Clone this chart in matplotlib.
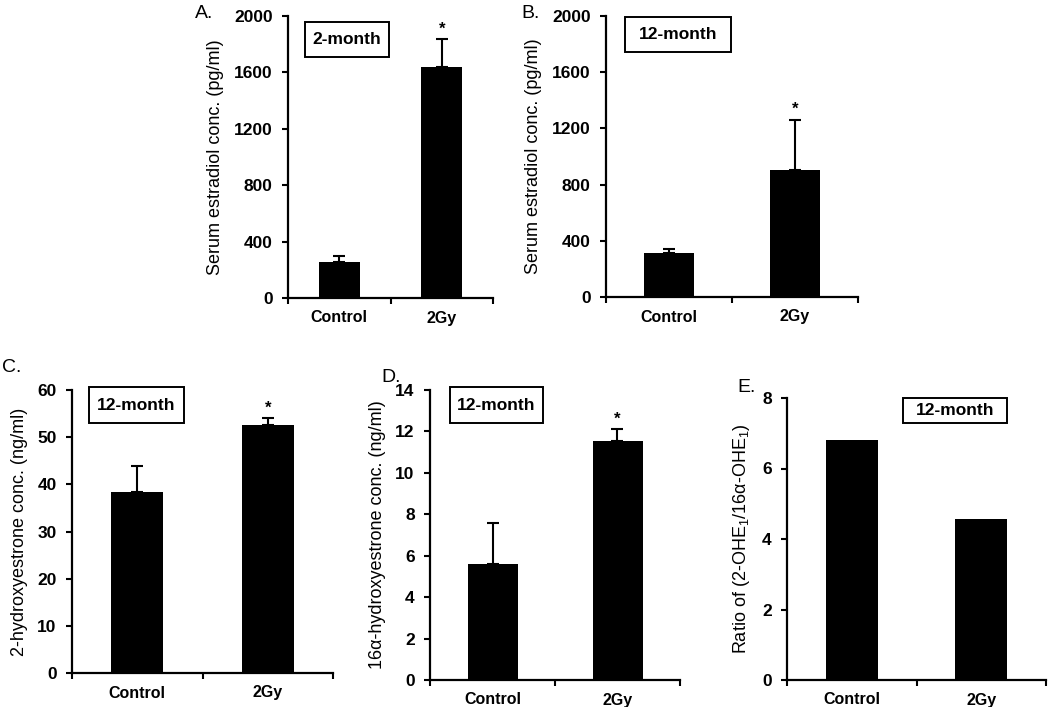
import matplotlib
matplotlib.use("Agg")
import matplotlib.pyplot as plt
from matplotlib.patches import Rectangle

plt.rcParams['font.family'] = ['Liberation Sans', 'DejaVu Sans']
plt.rcParams['mathtext.fontset'] = 'custom'
plt.rcParams['mathtext.rm'] = 'Liberation Sans'
plt.rcParams['mathtext.default'] = 'rm'

groups = ["Control", "2Gy"]

# A: serum estradiol, 2-month
estradiol_2m = [252, 1640]
estradiol_2m_err = [44, 194]
# B: serum estradiol, 12-month
estradiol_12m = [316, 903]
estradiol_12m_err = [28, 360]
# C: 2-hydroxyestrone, 12-month
ohe2_12m = [38.4, 52.6]
ohe2_12m_err = [5.5, 1.4]
# D: 16a-hydroxyestrone, 12-month
ohe16_12m = [5.58, 11.54]
ohe16_12m_err = [2.0, 0.56]
# E: ratio
ratio_12m = [6.82, 4.56]
# significance marks per group
signif = [False, True]

W, H = 1050, 707
fig = plt.figure(figsize=(W / 100, H / 100), dpi=100)


def px_axes(l, t, r, b):
    return fig.add_axes([l / W, 1 - b / H, (r - l) / W, (b - t) / H])


def panel(rect, vals, err, ymax, ystep, ylabel, letter, letter_xy, box, box_text):
    ax = px_axes(*rect)
    x = [0.5, 1.5]
    if err is not None:
        ax.bar(x, vals, width=0.4, color='black',
               yerr=[[0, 0], err], error_kw=dict(ecolor='black', elinewidth=1.5, capsize=4.5, capthick=1.5))
    else:
        ax.bar(x, vals, width=0.4, color='black')
    ax.set_xlim(0, 2)
    ax.set_ylim(0, ymax)
    yt = [ystep * i for i in range(int(round(ymax / ystep)) + 1)]
    ax.set_yticks(yt, labels=[f"{v:g}" for v in yt], fontweight='bold', fontsize=12.5)
    ax.set_xticks([0, 1, 2])
    ax.set_xticklabels([])
    ax.set_xticks(x, minor=True)
    ax.set_xticklabels(groups, minor=True, fontweight='bold', fontsize=11.5)
    ax.tick_params(axis='x', which='minor', length=0, pad=9)
    ax.tick_params(axis='x', which='major', direction='out', length=4, width=1.5)
    ax.tick_params(axis='y', direction='out', length=4, width=1.5, pad=7)
    for s in ['top', 'right']:
        ax.spines[s].set_visible(False)
    for s in ['left', 'bottom']:
        ax.spines[s].set_linewidth(1.6)
    ax.set_ylabel(ylabel, fontsize=13, labelpad=7)
    if err is not None:
        for xi, v, e, sg in zip(x, vals, err, signif):
            if sg:
                ax.annotate('*', xy=(xi, v + e), xytext=(0, 2), textcoords='offset points',
                            ha='center', va='bottom', fontsize=12, fontweight='bold')
    fig.text(letter_xy[0] / W, 1 - letter_xy[1] / H, letter, fontsize=14, ha='left', va='center')
    bl, bt, br, bb = box
    fig.patches.append(Rectangle((bl / W, 1 - bb / H), (br - bl) / W, (bb - bt) / H,
                                 transform=fig.transFigure, fill=False, edgecolor='black', linewidth=1.4))
    fig.text((bl + br) / 2 / W, 1 - (bt + bb) / 2 / H, box_text, fontsize=12.5,
             fontweight='bold', ha='center', va='center')
    return ax


panel((288, 16, 493, 298), estradiol_2m, estradiol_2m_err, 2000, 400,
      "Serum estradiol conc. (pg/ml)", "A.", (195, 14), (305, 22, 389, 57), "2-month")
panel((606, 16, 858, 297), estradiol_12m, estradiol_12m_err, 2000, 400,
      "Serum estradiol conc. (pg/ml)", "B.", (521, 14), (625, 17, 731, 52), "12-month")
panel((72, 390, 333, 673), ohe2_12m, ohe2_12m_err, 60, 10,
      "2-hydroxyestrone conc. (ng/ml)", "C.", (2, 368), (89, 387, 184, 423), "12-month")
panel((430, 390, 680, 680), ohe16_12m, ohe16_12m_err, 14, 2,
      "16α-hydroxyestrone conc. (ng/ml)", "D.", (381, 377), (450, 387, 543, 423), "12-month")
panel((787, 398, 1046, 680), ratio_12m, None, 8, 2,
      "Ratio of (2-OHE$_1$/16α-OHE$_1$)", "E.", (737, 388), (903, 398, 1007, 423), "12-month")

fig.savefig("out.png", dpi=100)
